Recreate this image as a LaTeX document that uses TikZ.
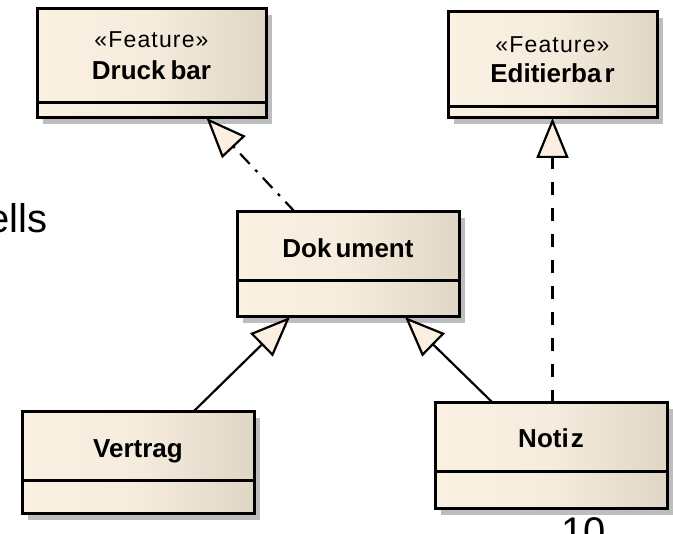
\documentclass[tikz,border=0pt]{standalone}
\usepackage{fontspec}
\setmainfont{Liberation Sans}
\newfontfamily\stereofont[LetterSpace=5]{Liberation Sans}
\usetikzlibrary{arrows.meta,shadows,calc}

\definecolor{classlight}{HTML}{FBF1E3}
\definecolor{classmid}{HTML}{F6ECDD}
\definecolor{classdark}{HTML}{E0D6C6}
\definecolor{shadowgray}{HTML}{BDBDBD}
\definecolor{tipfill}{HTML}{FAEFE0}

\begin{document}
\begin{tikzpicture}[x=1pt,y=-1pt,
  classbox/.style={draw=black, line width=3pt, rectangle, anchor=north west,
    inner sep=0pt, outer sep=0pt,
    left color=classlight, right color=classdark, middle color=classmid,
    drop shadow={shadow xshift=6pt, shadow yshift=-6pt, fill=shadowgray, opacity=1}},
  sepline/.style={draw=black, line width=3pt},
  stereo/.style={anchor=base, inner sep=0pt, font=\stereofont\fontsize{23}{27}\selectfont},
  classname/.style={anchor=base, inner sep=0pt, font=\fontsize{26}{30}\selectfont\bfseries},
  slidetext/.style={anchor=base west, inner sep=0pt, font=\fontsize{40}{44}\selectfont},
  gen/.style={draw=black, line width=2.2pt, -{Triangle[length=40pt,width=32pt,fill=tipfill]}},
  realizedash/.style={gen, dash pattern=on 13pt off 13pt},
  realizedot/.style={gen, dash pattern=on 14pt off 8pt on 3pt off 8pt},
]
\useasboundingbox (0,0) rectangle (673,534);

% slide text behind the diagram
\node[slidetext] (slideword) at (-12.8,233) {ells};
\node[slidetext] (pagenum) at (561,546) {10};

% classes
\node[classbox, minimum width=229pt, minimum height=109pt] (druck) at (37,9) {};
\draw[sepline] ($(druck.north west)+(0,94)$) -- ($(druck.north east)+(0,94)$);
\node[stereo] (druckst) at (151.5,48) {«Feature»};
\node[classname] (druckname) at (151.5,80) {Druck\hspace{5pt}bar};

\node[classbox, minimum width=209pt, minimum height=106pt] (edit) at (448,12) {};
\draw[sepline] ($(edit.north west)+(0,95)$) -- ($(edit.north east)+(0,95)$);
\node[stereo] (editst) at (552.5,53) {«Feature»};
\node[classname] (editname) at (552.5,83) {Editierba\hspace{3pt}r};

\node[classbox, minimum width=222pt, minimum height=105pt] (dok) at (237,212) {};
\draw[sepline] ($(dok.north west)+(0,69)$) -- ($(dok.north east)+(0,69)$);
\node[classname] (dokname) at (348,258) {Dok\hspace{4pt}ument};

\node[classbox, minimum width=232pt, minimum height=102pt] (vertrag) at (22,412) {};
\draw[sepline] ($(vertrag.north west)+(0,69)$) -- ($(vertrag.north east)+(0,69)$);
\node[classname] (vertragname) at (138,458) {Vertrag};

\node[classbox, minimum width=232pt, minimum height=106pt] (notiz) at (435,403) {};
\draw[sepline] ($(notiz.north west)+(0,69)$) -- ($(notiz.north east)+(0,69)$);
\node[classname] (notizname) at (551,448) {Noti\hspace{2pt}z};

% generalizations and realizations
\draw[gen] ([xshift=55pt]vertrag.north) -- ([xshift=-58pt]dok.south);
\draw[gen] ([xshift=-58pt]notiz.north) -- ([xshift=57pt]dok.south);
\draw[realizedash] (notiz.north -| edit.south) -- (edit.south);
\draw[realizedot] ([xshift=-53pt]dok.north) -- ([xshift=55pt]druck.south);
\end{tikzpicture}
\end{document}
